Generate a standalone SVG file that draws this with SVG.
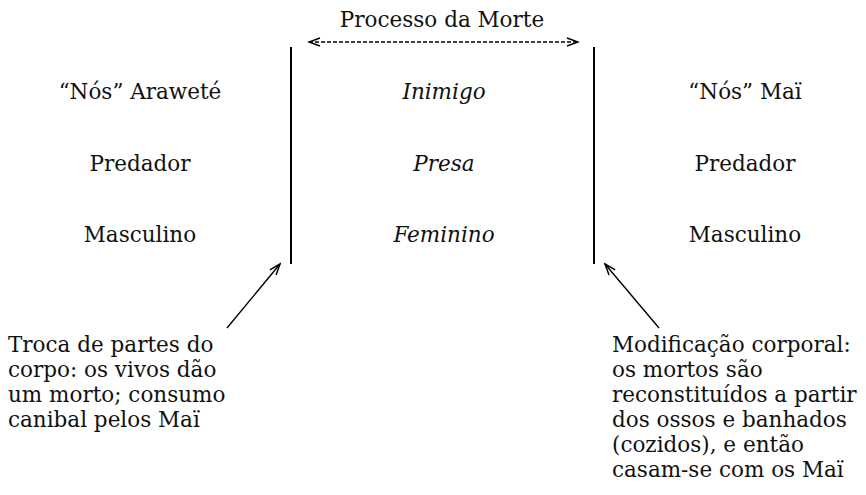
<svg xmlns="http://www.w3.org/2000/svg" width="866" height="495" viewBox="0 0 866 495">
<style>
text{font-family:"DejaVu Serif","Liberation Serif",serif;font-size:21.5px;fill:#111}
.c{text-anchor:middle}
.i{font-style:italic}
.ln{stroke:#000;stroke-width:2;fill:none}
.ar{stroke:#000;stroke-width:1.4;fill:none}
</style>
<defs>
<marker id="oa" markerWidth="14" markerHeight="10" refX="12" refY="5" orient="auto-start-reverse" markerUnits="userSpaceOnUse">
<path d="M1,1 L12,5 L1,9" fill="none" stroke="#000" stroke-width="1.5"/>
</marker>
</defs>
<rect width="866" height="495" fill="#fff"/>
<text class="c" x="442" y="27">Processo da Morte</text>
<g id="connectors">
<line class="ar" x1="309" y1="42" x2="578" y2="42" stroke-width="1.6" stroke-dasharray="4,2" marker-start="url(#oa)" marker-end="url(#oa)"/>
<line class="ar" x1="227" y1="328" x2="280" y2="264" marker-end="url(#oa)"/>
<line class="ar" x1="659" y1="328" x2="605" y2="264" marker-end="url(#oa)"/>
</g>
<g id="dividers">
<line class="ln" x1="291" y1="47" x2="291" y2="264"/>
<line class="ln" x1="594" y1="47" x2="594" y2="264"/>
</g>
<g id="left">
<text class="c" x="140" y="99">“Nós” Araweté</text>
<text class="c" x="140" y="171">Predador</text>
<text class="c" x="140" y="242">Masculino</text>
</g>
<g id="middle">
<text class="c i" x="444" y="99">Inimigo</text>
<text class="c i" x="444" y="171">Presa</text>
<text class="c i" x="444" y="242">Feminino</text>
</g>
<g id="right">
<text class="c" x="745" y="99">“Nós” Maï</text>
<text class="c" x="745" y="171">Predador</text>
<text class="c" x="745" y="242">Masculino</text>
</g>
<g id="note-left">
<text x="8" y="352">Troca de partes do</text>
<text x="8" y="377">corpo: os vivos dão</text>
<text x="8" y="402">um morto; consumo</text>
<text x="8" y="427">canibal pelos Maï</text>
</g>
<g id="note-right">
<text x="612" y="352">Modificação corporal:</text>
<text x="612" y="377">os mortos são</text>
<text x="612" y="402">reconstituídos a partir</text>
<text x="612" y="427">dos ossos e banhados</text>
<text x="612" y="452">(cozidos), e então</text>
<text x="612" y="477">casam-se com os Maï</text>
</g>
</svg>
